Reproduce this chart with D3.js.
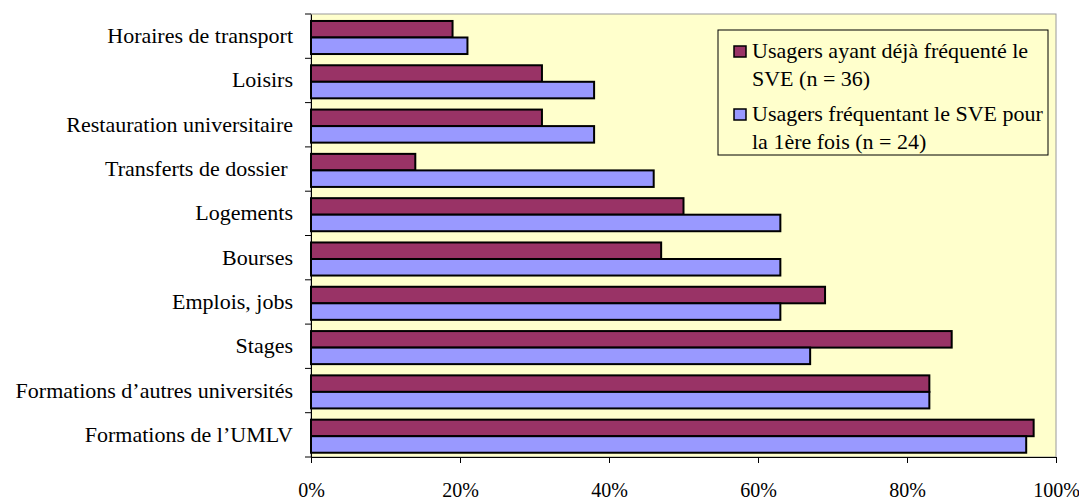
<!DOCTYPE html>
<html>
<head>
<meta charset="utf-8">
<script src="https://cdn.jsdelivr.net/npm/d3@7"></script>
<style>
  body { margin: 0; background: #fff; }
</style>
</head>
<body>
<svg id="chart" width="1079" height="500"></svg>
<script>
// categories top -> bottom
const categories = [
  "Horaires de transport",
  "Loisirs",
  "Restauration universitaire",
  "Transferts de dossier ",
  "Logements",
  "Bourses",
  "Emplois, jobs",
  "Stages",
  "Formations d\u2019autres universit\u00e9s",
  "Formations de l\u2019UMLV"
];
const dejaValues = [19, 31, 31, 14, 50, 47, 69, 86, 83, 97];
const premiereValues = [21, 38, 38, 46, 63, 63, 63, 67, 83, 96];
const seriesNames = [
  ["Usagers ayant d\u00e9j\u00e0 fr\u00e9quent\u00e9 le", "SVE (n = 36)"],
  ["Usagers fr\u00e9quentant le SVE pour", "la 1\u00e8re fois (n = 24)"]
];
const seriesColors = ["#993366", "#9999FF"];
const xTicks = [0, 20, 40, 60, 80, 100];

const serif = "Liberation Serif";
const svg = d3.select("#chart");
const pLeft = 311, pRight = 1056, pTop = 14, pBottom = 457;

const x = d3.scaleLinear().domain([0, 100]).range([pLeft, pRight]);
const y = d3.scaleBand().domain(categories).range([pTop, pBottom]);
const inner = d3.scaleBand().domain([0, 1]).range([0, y.bandwidth()])
  .paddingInner(0).paddingOuter(0.34).align(0.62);

// plot area
svg.append("rect")
  .attr("x", pLeft).attr("y", pTop)
  .attr("width", pRight - pLeft).attr("height", pBottom - pTop)
  .style("fill", "#FFFFCC")
  .style("stroke", "#9a9a9a")
  .style("stroke-width", 1);

const rows = categories.map((c, i) => ({ cat: c, vals: [dejaValues[i], premiereValues[i]] }));

const g = svg.append("g");
rows.forEach(r => {
  r.vals.forEach((v, k) => {
    g.append("rect")
      .attr("x", x(0))
      .attr("y", y(r.cat) + inner(k))
      .attr("width", x(v) - x(0))
      .attr("height", inner.bandwidth())
      .style("fill", seriesColors[k])
      .style("stroke", "black")
      .style("stroke-width", 2);
  });
});

// y axis
const yAxis = svg.append("g")
  .attr("transform", `translate(${pLeft},0)`)
  .call(d3.axisLeft(y).tickSize(0).tickPadding(18));
yAxis.attr("font-family", serif).attr("font-size", 22);
yAxis.select(".domain").style("stroke", "#000");
yAxis.selectAll("text").style("fill", "#000").style("white-space", "pre");
// category separators ticks
svg.append("g").selectAll("line")
  .data(categories.concat(["end"]))
  .enter().append("line")
  .attr("x1", pLeft - 6).attr("x2", pLeft)
  .attr("y1", (d, i) => pTop + i * y.step())
  .attr("y2", (d, i) => pTop + i * y.step())
  .style("stroke", "#000");

// x axis
const xAxis = svg.append("g")
  .attr("transform", `translate(0,${pBottom})`)
  .call(d3.axisBottom(x).tickValues(xTicks).tickFormat(d => d + "%").tickSize(6).tickPadding(20).tickSizeOuter(0));
xAxis.attr("font-family", serif).attr("font-size", 20);
xAxis.select(".domain").style("stroke", "#000");
xAxis.selectAll("text").style("fill", "#000");

// legend
const lg = svg.append("g").attr("font-family", serif).attr("font-size", 22);
lg.append("rect")
  .attr("x", 718).attr("y", 30).attr("width", 330).attr("height", 125)
  .style("fill", "#FFFFCC").style("stroke", "#000").style("stroke-width", 1);
seriesNames.forEach((lines, k) => {
  const base = 58 + k * 63;
  lg.append("rect")
    .attr("x", 734).attr("y", base - 12).attr("width", 12).attr("height", 11)
    .style("fill", seriesColors[k]).style("stroke", "#000").style("stroke-width", 1.5);
  lines.forEach((t, j) => {
    lg.append("text")
      .attr("x", 752).attr("y", base + j * 28)
      .text(t);
  });
});
</script>
</body>
</html>
